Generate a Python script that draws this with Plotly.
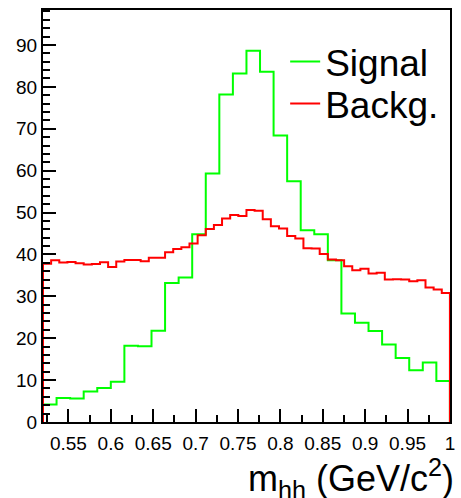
import numpy as np
import plotly.graph_objects as go

# ---- data ----
X_MIN, X_MAX = 0.52, 1.0
Y_MAX = 98.35

signal = [4.15, 5.7, 5.6, 7.3, 8.1, 9.6, 18.2, 18.1, 21.8, 33.2,
          34.5, 44.8, 59.3, 78.2, 83.2, 88.6, 83.6, 68.4, 57.5, 45.8,
          44.8, 38.6, 25.9, 23.7, 21.7, 18.5, 15.3, 12.35, 14.2, 9.8]

background = [37.8, 38.6, 38.1, 38.2, 37.9, 37.6, 37.7, 38.15, 37.0, 38.3,
              38.7, 38.7, 38.4, 39.2, 39.2, 40.5, 41.3, 41.7, 42.6, 44.6,
              46.1, 47.0, 48.6, 49.4, 49.2, 50.6, 50.4, 48.4, 46.75, 46.2,
              44.4, 43.8, 41.5, 41.4, 40.1, 38.8, 38.6, 37.2, 36.2, 36.6,
              35.45, 35.6, 34.0, 34.1, 34.0, 33.6, 33.85, 32.1, 31.6, 30.8]

x_tickvals = [0.55, 0.6, 0.65, 0.7, 0.75, 0.8, 0.85, 0.9, 0.95, 1.0]
x_ticktext = ["0.55", "0.6", "0.65", "0.7", "0.75", "0.8", "0.85", "0.9", "0.95", "1"]
y_tickvals = [0, 10, 20, 30, 40, 50, 60, 70, 80, 90]
series_names = ["Signal", "Backg."]
series_colors = ["#00ff00", "#ff0000"]
series_legends = ["legend", "legend2"]


def step_outline(values):
    edges = np.linspace(X_MIN, X_MAX, len(values) + 1)
    xs = [edges[0]] + list(edges) + [edges[-1]]
    ys = [0] + list(values) + [values[-1], 0]
    return xs, ys


FONT = "Liberation Sans, Arial, Helvetica, sans-serif"

fig = go.Figure()
for vals, name, col, lg in zip([signal, background], series_names, series_colors, series_legends):
    xs, ys = step_outline(vals)
    fig.add_trace(go.Scatter(x=xs, y=ys, mode="lines", name=name, legend=lg,
                             line=dict(color=col, width=2, shape="hv")))

axis_common = dict(showgrid=False, zeroline=False, showline=True, mirror=True,
                   linecolor="black", linewidth=2, ticks="inside",
                   tickcolor="black", tickwidth=2,
                   tickfont=dict(family=FONT, size=19, color="black"))

fig.update_xaxes(range=[X_MIN, X_MAX + 0.0001], tickvals=x_tickvals, ticktext=x_ticktext,
                 ticklen=13, ticklabelstandoff=3,
                 minor=dict(dtick=0.025, tick0=0.5, ticks="inside", ticklen=7,
                            tickwidth=2, tickcolor="black"),
                 **axis_common)
fig.update_yaxes(range=[0, Y_MAX], tickvals=y_tickvals, ticklen=13,
                 minor=dict(dtick=2, tick0=0, ticks="inside", ticklen=7,
                            tickwidth=2, tickcolor="black"),
                 **axis_common)

fig.add_annotation(text="m<sub>hh</sub> (GeV/c<sup>2</sup>)", xref="paper", yref="paper",
                   x=1, y=0, xanchor="right", yanchor="top", xshift=6, yshift=-29,
                   showarrow=False, font=dict(family=FONT, size=36, color="black"))

legend_common = dict(xanchor="left", yanchor="middle", bgcolor="rgba(0,0,0,0)",
                     borderwidth=0, font=dict(family=FONT, size=37, color="black"))

fig.update_layout(
    width=461, height=498,
    margin=dict(l=43, r=6, t=10, b=76),
    paper_bgcolor="white", plot_bgcolor="white",
    showlegend=True,
    legend=dict(x=0.595, y=0.874, **legend_common),
    legend2=dict(x=0.595, y=0.772, **legend_common),
)

fig.write_html("out.html")
